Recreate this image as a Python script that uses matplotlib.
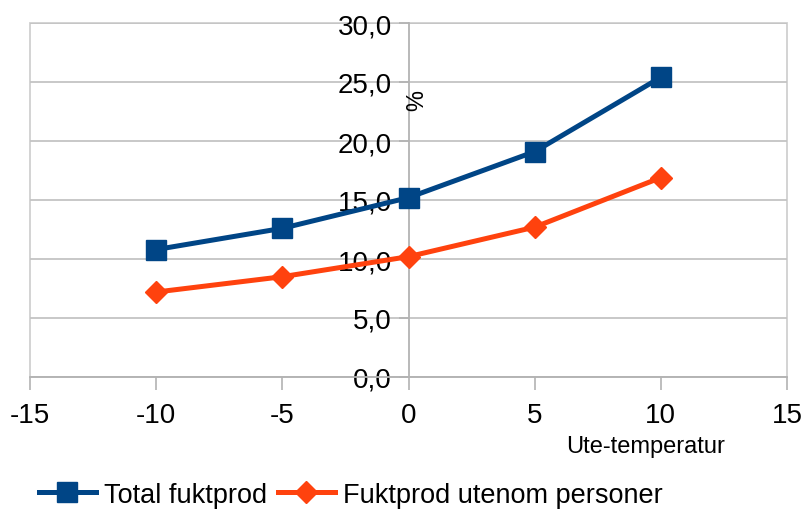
import numpy as np
import matplotlib
matplotlib.use('Agg')
import matplotlib.pyplot as plt
from matplotlib.ticker import FuncFormatter

plt.rcParams['font.family'] = ['Liberation Sans', 'DejaVu Sans']
plt.rcParams['axes.unicode_minus'] = False

# utetemperatur og andel fukt (%)
temperatur = [-10, -5, 0, 5, 10]
total_fukt = [10.8, 12.6, 15.2, 19.1, 25.4]
fukt_uten_pers = [7.2, 8.5, 10.2, 12.7, 16.9]
serie_navn = ['Total fuktprod', 'Fuktprod utenom personer']

blaa = '#004586'
oransje = '#ff420e'
grid_farge = '#c4c4c4'

fig = plt.figure(figsize=(8.06, 5.10), dpi=100)
ax = fig.add_axes([30/806, 132/510, 757/806, 354/510])

ax.plot(temperatur, total_fukt, color=blaa, lw=3.6, marker='s', ms=14,
        label=serie_navn[0], zorder=3)
ax.plot(temperatur, fukt_uten_pers, color=oransje, lw=3.6, marker='D', ms=11,
        label=serie_navn[1], zorder=3)

ax.set_xlim(-15, 15)
ax.set_ylim(0, 30)
ax.set_xticks(np.arange(-15, 16, 5))
ax.set_yticks(np.arange(0, 31, 5))
ax.yaxis.set_major_formatter(FuncFormatter(lambda v, p: f'{v:.1f}'.replace('.', ',')))

# y-aksen står ved x=0
ax.spines['left'].set_position(('data', 0))
ax.spines['left'].set_color('#b3b3b3')
ax.spines['left'].set_linewidth(1.3)
ax.spines['bottom'].set_color('#b3b3b3')
ax.spines['bottom'].set_linewidth(1.3)
ax.spines['top'].set_visible(False)
ax.spines['right'].set_visible(False)
ax.patch.set_edgecolor('#d0d0d0')
ax.patch.set_linewidth(1.3)

ax.grid(axis='y', color=grid_farge, lw=1.3, zorder=0)
ax.set_axisbelow(True)

ax.tick_params(axis='x', direction='out', length=9, width=1.2, color='#b3b3b3',
               labelsize=20, pad=9)
ax.tick_params(axis='y', direction='out', length=7, width=1.2, color='#b3b3b3',
               labelsize=20, pad=5)

fig.text(410/806, 1 - 101/510, '%', rotation=270, fontsize=17,
         ha='center', va='center')
fig.text(646/806, 1 - 447/510, 'Ute-temperatur', fontsize=17,
         ha='center', va='center')

fig.legend(loc='center', bbox_to_anchor=(0.435, 0.028), ncol=2, frameon=False,
           fontsize=19.5, handlelength=2.1, handletextpad=0.3, columnspacing=0.4,
           borderaxespad=0)

fig.savefig('out.png', dpi=100)
